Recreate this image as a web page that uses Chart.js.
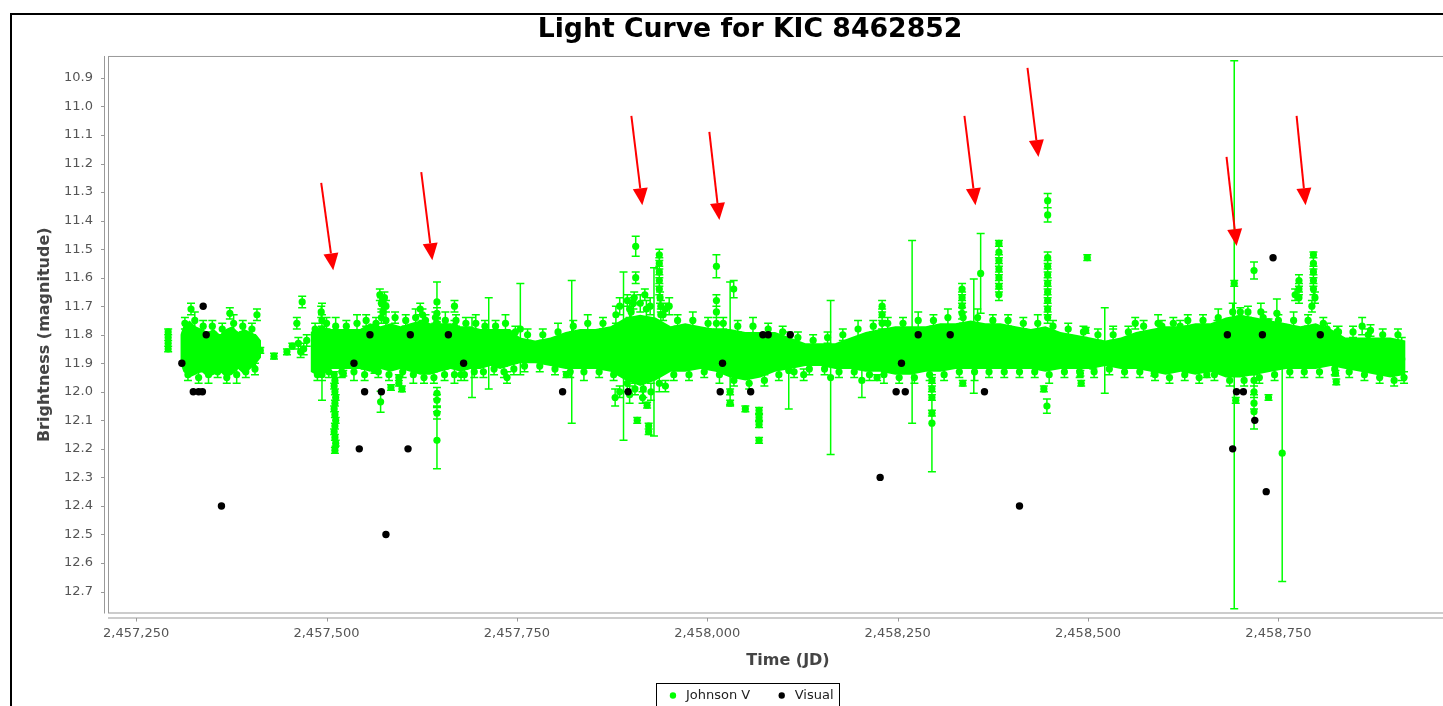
<!DOCTYPE html>
<html>
<head>
<meta charset="utf-8">
<script src="https://cdn.jsdelivr.net/npm/chart.js@4.4.1/dist/chart.umd.min.js"></script>
<style>
  html, body { margin: 0; padding: 0; background: #fff; overflow: hidden; }
  #frame { position: absolute; left: 10px; top: 13px; width: 1500px; height: 760px; border: 2px solid #000; }
  #wrap { position: absolute; left: 12px; top: 15px; width: 1476px; height: 697px; }
</style>
</head>
<body>
<div id="frame"></div>
<div id="wrap"><canvas id="lightCurve"></canvas></div>
<script>
const lightCurve = document.getElementById('lightCurve');

const JD0 = 2457000; // all dates below are JD - 2457000

// Johnson V points: [JD - JD0, magnitude, error]
const jvSeason1 = [
    [292, 11.79, .01], [292, 11.81, .01], [292, 11.83, .01], [292, 11.85, .01],
    [322, 11.71, .02], [373, 11.725, .02], [408.6, 11.73, .02], [403, 11.90, .01],
    [413, 11.855, .01], [431, 11.875, .01], [448, 11.86, .01], [455, 11.84, .01],
    [461, 11.76, .02], [463, 11.83, .02], [468, 11.685, .02], [470, 11.85, .02],
    [474, 11.82, .02], [466, 11.86, .02],
];
const jvSeason2 = [
    [493, 11.72, .02], [494, 11.75, .02], [494, 11.78, .02], [495, 11.91, .02], [494, 11.94, .02], [494, 11.86, .17],
    [510, 11.94, .01], [511, 11.96, .01], [510, 11.98, .01], [511, 12.00, .01], [512, 12.02, .01], [511, 12.04, .01],
    [510, 12.06, .01], [511, 12.08, .01], [512, 12.10, .01], [511, 12.12, .01], [510, 12.14, .01], [511, 12.16, .01],
    [512, 12.18, .01], [511, 12.205, .01],
    [522, 11.935, .01], [563, 11.925, .01], [571, 12.035, .037], [584.6, 11.985, .01], [595, 11.95, .01],
    [595, 11.97, .01], [599, 11.99, .01],
    [570, 11.66, .02], [572, 11.69, .02], [574, 11.72, .02], [576, 11.67, .02], [578, 11.70, .02], [572, 11.74, .02],
    [623, 11.71, .02], [626, 11.73, .02],
    [645, 11.685, .07], [645, 11.725, .02], [645, 11.76, .02], [645, 12.005, .02], [645, 12.03, .02],
    [645, 12.075, .02], [645, 12.17, .1],
    [668, 11.70, .02], [668, 11.77, .02], [676.6, 11.94, .02], [691, 11.88, .14], [713, 11.83, .16],
    [737, 11.95, .02], [754.5, 11.78, .16],
];
const jvSeason3 = [
    [815, 11.94, .01], [822, 11.86, .25], [879, 12.02, .03], [890, 11.875, .295],
    [885, 11.70, .03], [895, 11.68, .02], [900, 11.72, .02], [912, 11.69, .03], [918, 11.66, .02],
    [925, 11.70, .03], [945, 11.71, .02], [950, 11.70, .03],
    [885, 12.00, .02], [898, 12.01, .03], [905, 11.99, .02], [915, 12.02, .02], [926, 12.00, .03], [945, 11.98, .02],
    [906, 11.49, .035], [906, 11.60, .02], [904, 11.67, .02], [903, 11.69, .02],
    [908, 12.10, .01], [921, 12.047, .01], [923, 12.12, .01], [923, 12.14, .01], [930, 11.86, .295],
    [937, 11.52, .02], [937, 11.55, .02], [937, 11.58, .02], [937, 11.61, .02], [937, 11.64, .02],
    [938, 11.67, .02], [939, 11.70, .02], [939, 11.73, .02],
    [1012, 11.56, .04], [1012, 11.68, .02], [1012, 11.72, .02], [1012, 11.76, .02],
    [1034.7, 11.64, .03], [1030, 11.83, .215], [1030, 12.00, .01], [1030, 12.04, .01], [1050, 12.06, .01],
    [1068, 12.065, .01], [1068, 12.09, .01], [1068, 12.115, .01], [1068, 12.17, .01],
    [1107, 11.925, .135],
];
const jvSeason4 = [
    [1126.6, 11.94, .02], [1162, 11.95, .27], [1203, 11.96, .06], [1223, 11.95, .01],
    [1229.6, 11.70, .02], [1229.6, 11.73, .02], [1229.6, 11.76, .02], [1269, 11.79, .32],
    [1295, 11.96, .01], [1295, 11.99, .01], [1295, 12.02, .01], [1295, 12.075, .01], [1295, 12.11, .17],
    [1335.5, 11.97, .01], [1350, 11.805, .2], [1359, 11.585, .14],
    [1334.6, 11.64, .02], [1334.6, 11.67, .02], [1334.6, 11.70, .02], [1334.6, 11.725, .02],
    [1383, 11.48, .01], [1383, 11.51, .02], [1383, 11.54, .02], [1383, 11.57, .02], [1383, 11.60, .02],
    [1383, 11.63, .02], [1383, 11.66, .02],
    [1442, 11.99, .01], [1446, 12.05, .025],
    [1447, 11.33, .025], [1447, 11.38, .025], [1447, 11.53, .02], [1447, 11.56, .02], [1447, 11.59, .02],
    [1447, 11.62, .02], [1447, 11.65, .02], [1447, 11.68, .02], [1447, 11.71, .02], [1447, 11.74, .02],
    [1490, 11.935, .01], [1491, 11.97, .01], [1499, 11.53, .01], [1497, 11.785, .01],
];
const jvSeason5 = [
    [1522, 11.855, .15], [1507, 11.91, .01], [1533, 11.84, .07], [1562, 11.76, .02], [1587, 11.935, .01],
    [1597, 11.77, .02], [1621, 11.77, .02], [1656, 11.94, .01], [1670, 11.77, .02],
    [1692, 11.80, .96], [1692, 11.62, .01], [1694, 12.03, .01], [1700, 11.72, .015],
    [1718, 11.575, .03], [1718, 11.96, .02], [1718, 12.00, .02], [1718, 12.04, .02], [1718, 12.07, .06],
    [1727, 11.72, .03], [1737, 12.02, .01], [1737, 11.755, .01], [1748, 11.725, .05], [1755, 12.215, .45],
    [1772, 11.66, .02], [1777, 11.61, .02], [1777, 11.64, .02], [1777, 11.67, .02],
    [1796, 11.52, .01], [1796, 11.55, .02], [1796, 11.58, .02], [1796, 11.61, .02], [1796, 11.64, .02],
    [1798, 11.67, .02], [1794, 11.70, .02],
    [1814, 11.78, .02], [1825, 11.935, .01], [1826, 11.965, .01], [1827, 11.79, .02],
    [1860, 11.77, .03], [1871, 11.785, .02], [1888, 11.90, .04], [1893, 11.92, .015], [1912, 11.885, .075],
];
// points sticking out of the upper and lower edge of the crowded band
const jvEdgeTop = [
    [314, 11.76, .02], [327, 11.75, .03], [338, 11.77, .02], [350, 11.77, .02], [363, 11.78, .02],
    [378, 11.76, .03], [390, 11.77, .02], [402, 11.78, .02],
    [485, 11.78, .02], [500, 11.76, .02], [512, 11.77, .03], [526, 11.77, .02], [540, 11.76, .03],
    [552, 11.75, .02], [565, 11.76, .02], [578, 11.75, .03], [590, 11.74, .02], [604, 11.75, .02],
    [617, 11.74, .03], [630, 11.75, .02], [643, 11.74, .02], [656, 11.75, .03], [670, 11.75, .02],
    [683, 11.76, .02], [696, 11.76, .03], [708, 11.77, .02], [722, 11.77, .02], [735, 11.76, .03],
    [748, 11.79, .02], [764, 11.80, .02], [784, 11.80, .02], [804, 11.79, .03], [824, 11.77, .02],
    [843, 11.76, .03], [863, 11.76, .02], [880, 11.73, .03], [898, 11.71, .03], [920, 11.71, .03],
    [942, 11.73, .02], [961, 11.75, .02], [981, 11.75, .03], [1001, 11.76, .02], [1021, 11.76, .02],
    [1040, 11.77, .02], [1060, 11.77, .03], [1080, 11.78, .02], [1099, 11.79, .02], [1119, 11.81, .02],
    [1139, 11.82, .02], [1158, 11.81, .02], [1178, 11.80, .02], [1198, 11.78, .03], [1218, 11.77, .02],
    [1237, 11.76, .02], [1257, 11.76, .02], [1277, 11.75, .03], [1297, 11.75, .02], [1316, 11.74, .03],
    [1336, 11.74, .02], [1355, 11.74, .03], [1375, 11.75, .02], [1395, 11.75, .02], [1415, 11.76, .02],
    [1434, 11.76, .03], [1454, 11.77, .02], [1474, 11.78, .02], [1494, 11.79, .02], [1513, 11.80, .02],
    [1533, 11.80, .02], [1553, 11.79, .02], [1573, 11.77, .02], [1592, 11.76, .03], [1612, 11.76, .02],
    [1631, 11.75, .02], [1651, 11.75, .02], [1671, 11.74, .03], [1690, 11.72, .03], [1710, 11.72, .02],
    [1730, 11.74, .02], [1750, 11.75, .02], [1770, 11.75, .03], [1789, 11.75, .02], [1809, 11.76, .02],
    [1829, 11.79, .02], [1848, 11.79, .02], [1868, 11.80, .02], [1887, 11.80, .02], [1907, 11.80, .02],
];
const jvEdgeBottom = [
    [318, 11.94, .02], [332, 11.95, .02], [345, 11.94, .03], [357, 11.93, .02], [369, 11.95, .02],
    [382, 11.94, .03], [394, 11.93, .02], [406, 11.92, .02],
    [488, 11.94, .02], [503, 11.93, .02], [520, 11.93, .02], [536, 11.93, .03], [550, 11.94, .02],
    [568, 11.93, .02], [582, 11.94, .02], [600, 11.93, .02], [614, 11.94, .03], [628, 11.95, .02],
    [641, 11.95, .02], [655, 11.94, .02], [668, 11.94, .03], [681, 11.94, .02], [694, 11.93, .02],
    [706, 11.93, .02], [720, 11.92, .02], [733, 11.93, .02], [746, 11.92, .02], [760, 11.91, .02],
    [780, 11.91, .02], [800, 11.92, .02], [820, 11.93, .02], [838, 11.93, .03], [858, 11.93, .02],
    [877, 11.94, .02], [895, 11.97, .03], [916, 11.99, .03], [937, 11.97, .03], [956, 11.94, .02],
    [976, 11.94, .02], [996, 11.93, .02], [1016, 11.94, .03], [1035, 11.96, .02], [1055, 11.97, .02],
    [1075, 11.96, .02], [1094, 11.94, .02], [1114, 11.93, .02], [1134, 11.92, .02], [1154, 11.92, .02],
    [1173, 11.93, .02], [1193, 11.93, .02], [1213, 11.94, .02], [1232, 11.94, .03], [1252, 11.95, .02],
    [1272, 11.95, .02], [1292, 11.94, .02], [1311, 11.94, .02], [1331, 11.93, .02], [1351, 11.93, .03],
    [1370, 11.93, .02], [1390, 11.93, .02], [1410, 11.93, .02], [1430, 11.93, .02], [1449, 11.94, .03],
    [1469, 11.93, .02], [1489, 11.93, .02], [1508, 11.93, .02], [1528, 11.92, .02], [1548, 11.93, .02],
    [1568, 11.93, .02], [1588, 11.94, .02], [1607, 11.95, .02], [1627, 11.94, .02], [1646, 11.95, .02],
    [1666, 11.94, .02], [1686, 11.96, .02], [1705, 11.96, .02], [1725, 11.95, .02], [1745, 11.94, .02],
    [1765, 11.93, .02], [1784, 11.93, .02], [1804, 11.93, .02], [1824, 11.92, .02], [1843, 11.93, .02],
    [1863, 11.94, .02], [1883, 11.95, .02], [1902, 11.96, .02], [1915, 11.95, .02],
];

// envelope of the crowded Johnson V band (too dense to read point by point)
const bandAJd = [308, 312, 320, 328, 336, 344, 352, 360, 368, 376, 384, 392, 400, 408, 414];
const bandATop = [11.80, 11.77, 11.75, 11.77, 11.78, 11.79, 11.78, 11.80, 11.78, 11.77, 11.79, 11.78, 11.79, 11.80, 11.82];
const bandABottom = [11.90, 11.93, 11.95, 11.94, 11.93, 11.95, 11.94, 11.93, 11.95, 11.94, 11.92, 11.94, 11.92, 11.90, 11.88];

const bandBJd = [479, 492, 505, 518, 531, 544, 557, 571, 584, 597, 610, 623, 636, 649, 663, 676, 689, 702, 715, 728, 741,
    754, 774, 794, 814, 833, 853, 873, 893, 912, 932, 952, 971, 991, 1011, 1030, 1050, 1070, 1089, 1109, 1129,
    1149, 1168, 1188, 1208, 1227, 1247, 1267, 1287, 1306, 1326, 1346, 1365, 1385, 1405, 1425, 1444, 1464, 1484, 1503, 1523,
    1543, 1563, 1583, 1602, 1622, 1641, 1661, 1681, 1700, 1720, 1740, 1760, 1779, 1799, 1819, 1838, 1858, 1878, 1897, 1917];
const bandBTop = [11.79, 11.77, 11.78, 11.78, 11.78, 11.78, 11.76, 11.77, 11.76, 11.77, 11.76, 11.75, 11.76, 11.76, 11.76, 11.77, 11.77, 11.78, 11.78, 11.78, 11.78,
    11.81, 11.82, 11.81, 11.79, 11.78, 11.78, 11.77, 11.74, 11.73, 11.74,
    11.77, 11.76, 11.77, 11.78, 11.78, 11.79, 11.79, 11.79, 11.81, 11.83,
    11.83, 11.83, 11.81, 11.79, 11.78, 11.77, 11.77, 11.77, 11.76, 11.76,
    11.75, 11.76, 11.76, 11.77, 11.78, 11.77, 11.79, 11.80, 11.81, 11.82,
    11.81, 11.79, 11.78, 11.77, 11.77, 11.76, 11.76, 11.74, 11.73, 11.74,
    11.75, 11.76, 11.77, 11.76, 11.78, 11.81, 11.81, 11.81, 11.81, 11.82];
const bandBBottom = [11.93, 11.95, 11.92, 11.92, 11.92, 11.92, 11.93, 11.92, 11.93, 11.92, 11.93, 11.94, 11.94, 11.93, 11.92, 11.93, 11.92, 11.92, 11.91, 11.92, 11.91,
    11.90, 11.90, 11.91, 11.92, 11.92, 11.92, 11.93, 11.96, 11.98, 11.96,
    11.93, 11.93, 11.92, 11.93, 11.95, 11.96, 11.95, 11.93, 11.92, 11.91,
    11.91, 11.92, 11.92, 11.93, 11.93, 11.94, 11.94, 11.93, 11.93, 11.92,
    11.92, 11.92, 11.92, 11.92, 11.92, 11.93, 11.92, 11.92, 11.92, 11.91,
    11.92, 11.92, 11.93, 11.94, 11.93, 11.94, 11.93, 11.95, 11.95, 11.94,
    11.93, 11.92, 11.92, 11.92, 11.91, 11.92, 11.93, 11.94, 11.95, 11.94];

// visual estimates
const visualJd = [310, 325, 332, 337, 338, 342, 362,
    536, 543, 550, 557, 572, 578, 607, 610, 660, 680,
    810, 896, 1017, 1020, 1057, 1073, 1080, 1109,
    1227, 1248, 1255, 1260, 1277, 1319, 1364, 1410,
    1683, 1690, 1695, 1704, 1719, 1729, 1734, 1743, 1805];
const visualMag = [11.90, 12.00, 12.00, 12.00, 11.70, 11.80, 12.40,
    11.90, 12.20, 12.00, 11.80, 12.00, 12.50, 12.20, 11.80, 11.80, 11.90,
    12.00, 12.00, 12.00, 11.90, 12.00, 11.80, 11.80, 11.80,
    12.30, 12.00, 11.90, 12.00, 11.80, 11.80, 12.00, 12.40,
    11.80, 12.20, 12.00, 12.00, 12.10, 11.80, 12.35, 11.53, 11.80];

// red arrows drawn over the plot: tail and tip as [JD - JD0, magnitude]
const arrowTail = [[493, 11.268], [624.4, 11.23], [900.3, 11.033], [1002.7, 11.089],
    [1337.7, 11.033], [1420.5, 10.865], [1681.9, 11.177], [1773.9, 11.033]];
const arrowTip = [[508.8, 11.574], [638.9, 11.539], [914.7, 11.346], [1015.9, 11.398],
    [1352.2, 11.346], [1434.9, 11.177], [1695.1, 11.489], [1785.7, 11.346]];

const green = '#00ff00';
const axisGrey = '#999999';

const jvData = [].concat(jvSeason1, jvSeason2, jvSeason3, jvSeason4, jvSeason5, jvEdgeTop, jvEdgeBottom)
    .map(p => ({ x: JD0 + p[0], y: p[1], err: p[2] }));
const visualData = visualJd.map((d, i) => ({ x: JD0 + d, y: visualMag[i] }));
const bandLine = (jd, mags) => jd.map((d, i) => ({ x: JD0 + d, y: mags[i] }));

Chart.defaults.font.family = 'DejaVu Sans';
Chart.defaults.font.size = 13;
Chart.defaults.color = '#555';

// error bars for the Johnson V points, drawn just before the points
const errorBars = {
    id: 'errorBars',
    beforeDatasetDraw(chart, args) {
        if (args.index !== 0) return;
        const { ctx, chartArea: a, scales: { x, y } } = chart;
        ctx.save();
        ctx.beginPath();
        ctx.rect(a.left, a.top, a.width, a.height);
        ctx.clip();
        ctx.strokeStyle = green;
        ctx.lineWidth = 1.5;
        ctx.beginPath();
        chart.data.datasets[0].data.forEach(p => {
            const px = x.getPixelForValue(p.x);
            const top = y.getPixelForValue(p.y - p.err);
            const bot = y.getPixelForValue(p.y + p.err);
            ctx.moveTo(px, top); ctx.lineTo(px, bot);
            ctx.moveTo(px - 4, top); ctx.lineTo(px + 4, top);
            ctx.moveTo(px - 4, bot); ctx.lineTo(px + 4, bot);
        });
        ctx.stroke();
        ctx.restore();
    }
};

// plot outline plus axis lines set a few pixels off the plot
const plotFrame = {
    id: 'plotFrame',
    beforeDatasetsDraw(chart) {
        const { ctx, chartArea: a, scales: { x, y } } = chart;
        ctx.save();
        ctx.strokeStyle = axisGrey;
        ctx.lineWidth = 1;
        ctx.strokeRect(a.left + 0.5, a.top + 0.5, a.width - 1, a.height - 1);
        ctx.beginPath();
        ctx.moveTo(a.left - 3.5, a.top); ctx.lineTo(a.left - 3.5, a.bottom);
        y.ticks.forEach(t => {
            const py = Math.round(y.getPixelForValue(t.value)) + 0.5;
            ctx.moveTo(a.left - 7, py); ctx.lineTo(a.left - 3.5, py);
        });
        ctx.moveTo(a.left, a.bottom + 4.5); ctx.lineTo(a.right, a.bottom + 4.5);
        x.ticks.forEach(t => {
            const px = Math.round(x.getPixelForValue(t.value)) + 0.5;
            ctx.moveTo(px, a.bottom + 4.5); ctx.lineTo(px, a.bottom + 8);
        });
        ctx.stroke();
        ctx.restore();
    }
};

const arrows = {
    id: 'arrows',
    afterDatasetsDraw(chart) {
        const { ctx, scales: { x, y } } = chart;
        ctx.save();
        ctx.strokeStyle = '#ff0000';
        ctx.fillStyle = '#ff0000';
        ctx.lineWidth = 2;
        arrowTail.forEach((t, i) => {
            const x0 = x.getPixelForValue(JD0 + t[0]), y0 = y.getPixelForValue(t[1]);
            const x1 = x.getPixelForValue(JD0 + arrowTip[i][0]), y1 = y.getPixelForValue(arrowTip[i][1]);
            const ang = Math.atan2(y1 - y0, x1 - x0);
            const head = 17, half = 7.5;
            const bx = x1 - head * Math.cos(ang), by = y1 - head * Math.sin(ang);
            ctx.beginPath();
            ctx.moveTo(x0, y0); ctx.lineTo(bx, by);
            ctx.stroke();
            ctx.beginPath();
            ctx.moveTo(x1, y1);
            ctx.lineTo(bx + half * Math.sin(ang), by - half * Math.cos(ang));
            ctx.lineTo(bx - half * Math.sin(ang), by + half * Math.cos(ang));
            ctx.closePath();
            ctx.fill();
        });
        ctx.restore();
    }
};

// box round the legend, as in the original
const legendBox = {
    id: 'legendBox',
    afterDraw(chart) {
        const lg = chart.legend;
        const boxes = lg.legendHitBoxes;
        if (!boxes || !boxes.length) return;
        const left = Math.round(Math.min(...boxes.map(b => b.left)) - 10) + 0.5;
        const right = Math.round(Math.max(...boxes.map(b => b.left + b.width)) + 5) + 0.5;
        const top = Math.round(lg.top + 18.5) + 0.5;
        const ctx = chart.ctx;
        ctx.save();
        ctx.strokeStyle = '#000';
        ctx.lineWidth = 1;
        ctx.strokeRect(left, top, right - left, chart.height);
        ctx.restore();
    }
};

new Chart(lightCurve, {
    type: 'scatter',
    data: {
        datasets: [
            {
                label: 'Johnson V',
                data: jvData,
                order: 1,
                pointRadius: 3.6,
                pointHoverRadius: 3.6,
                pointBorderWidth: 0,
                backgroundColor: green,
                borderColor: green,
            },
            {
                label: 'Visual',
                data: visualData,
                order: 0,
                pointRadius: 3.7,
                pointHoverRadius: 3.7,
                pointBorderWidth: 0,
                backgroundColor: '#000',
                borderColor: '#000',
            },
            {
                type: 'line', label: 'bandA top', data: bandLine(bandAJd, bandATop), order: 2,
                borderWidth: 0, borderColor: 'rgba(0,0,0,0)', pointRadius: 0, fill: false, tension: 0,
            },
            {
                type: 'line', label: 'bandA bottom', data: bandLine(bandAJd, bandABottom), order: 2,
                borderWidth: 0, borderColor: 'rgba(0,0,0,0)', pointRadius: 0, tension: 0,
                fill: '-1', backgroundColor: green,
            },
            {
                type: 'line', label: 'bandB top', data: bandLine(bandBJd, bandBTop), order: 2,
                borderWidth: 0, borderColor: 'rgba(0,0,0,0)', pointRadius: 0, fill: false, tension: 0,
            },
            {
                type: 'line', label: 'bandB bottom', data: bandLine(bandBJd, bandBBottom), order: 2,
                borderWidth: 0, borderColor: 'rgba(0,0,0,0)', pointRadius: 0, tension: 0,
                fill: '-1', backgroundColor: green,
            },
        ]
    },
    options: {
        responsive: true,
        maintainAspectRatio: false,
        animation: false,
        events: [],
        layout: { padding: { left: 20, right: 20, top: 0, bottom: 0 } },
        scales: {
            x: {
                type: 'linear',
                min: 2457213,
                max: 2458999,
                grid: { display: false, drawTicks: false },
                border: { display: false },
                ticks: {
                    autoSkip: false,
                    padding: 12,
                    color: '#555',
                    callback: v => v.toLocaleString('en-US'),
                },
                // one tick every 250 days, as on the original axis
                afterBuildTicks: scale => {
                    const ticks = [];
                    for (let v = Math.ceil(scale.min / 250) * 250; v <= scale.max; v += 250) ticks.push({ value: v });
                    scale.ticks = ticks;
                },
                title: {
                    display: true,
                    text: 'Time (JD)',
                    color: '#444',
                    font: { size: 16, weight: 'bold' },
                    padding: { top: 0, bottom: -6.1 },
                },
                afterFit: scale => { scale.height = 50.5; },
            },
            y: {
                type: 'linear',
                reverse: true,
                min: 10.823,
                max: 12.777,
                grid: { display: false, drawTicks: false },
                border: { display: false },
                ticks: {
                    stepSize: 0.1,
                    includeBounds: false,
                    autoSkip: false,
                    maxTicksLimit: 100,
                    padding: 15,
                    color: '#555',
                    callback: v => v.toFixed(1),
                },
                title: {
                    display: true,
                    text: 'Brightness (magnitude)',
                    color: '#444',
                    font: { size: 16, weight: 'bold' },
                    padding: { top: 3.4, bottom: 0 },
                },
                afterFit: scale => { scale.width = 76; },
            }
        },
        plugins: {
            title: {
                display: true,
                text: 'Light Curve for KIC 8462852',
                color: '#000',
                font: { size: 26.7, weight: 'bold', lineHeight: 1.1 },
                padding: { top: 0, bottom: 11.6 },
            },
            legend: {
                display: true,
                position: 'bottom',
                labels: {
                    usePointStyle: true,
                    pointStyle: 'circle',
                    boxWidth: 14,
                    boxHeight: 4.5,
                    padding: 25,
                    color: '#222',
                    font: { size: 13 },
                    filter: item => item.datasetIndex < 2,
                    sort: (a, b) => a.datasetIndex - b.datasetIndex,
                },
            },
            tooltip: { enabled: false },
        }
    },
    plugins: [plotFrame, errorBars, arrows, legendBox]
});
</script>
</body>
</html>
